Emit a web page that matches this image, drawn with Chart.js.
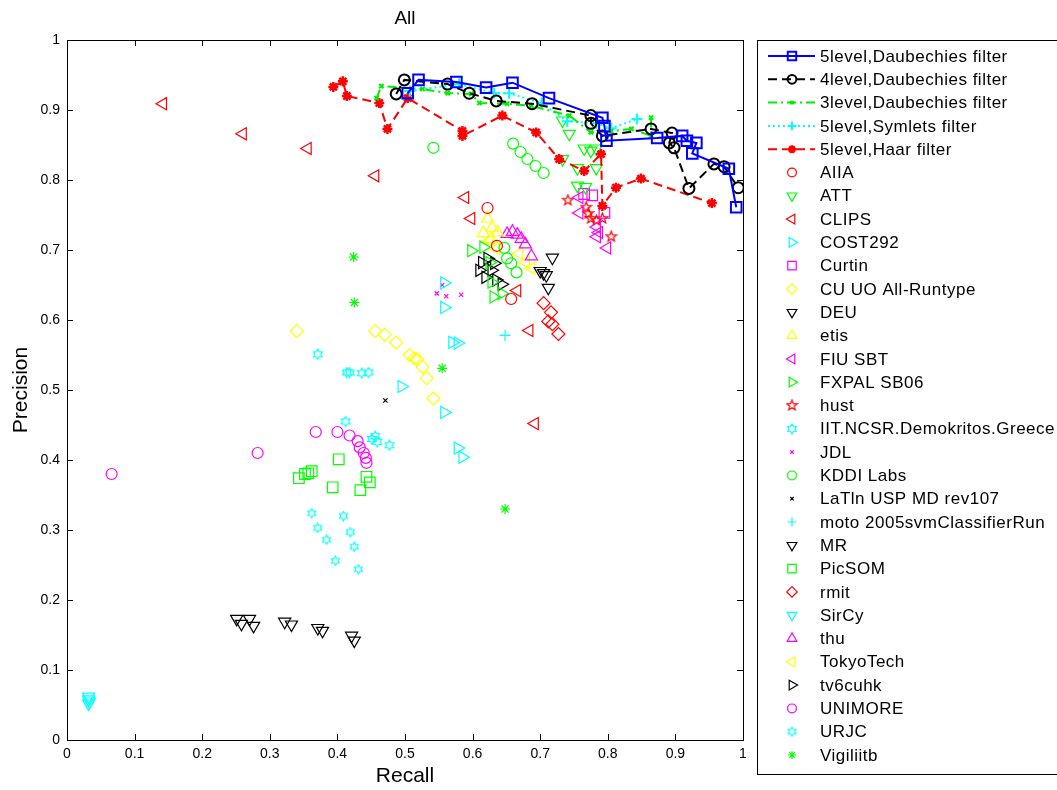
<!DOCTYPE html>
<html>
<head>
<meta charset="utf-8">
<script src="https://cdn.jsdelivr.net/npm/chart.js@4.4.0/dist/chart.umd.min.js"></script>
<style>
  html, body { margin: 0; padding: 0; background: #fff; }
  #wrap { width: 1057px; height: 790px; }
</style>
</head>
<body>
<div id="wrap"><canvas id="pr"></canvas></div>
<script>
// axis ticks
var tickVals = [0, 0.1, 0.2, 0.3, 0.4, 0.5, 0.6, 0.7, 0.8, 0.9, 1];
var tickLabels = ['0', '0.1', '0.2', '0.3', '0.4', '0.5', '0.6', '0.7', '0.8', '0.9', '1'];

// wavelet runs, [recall, precision]
var daub5 = [[0.504,0.924],[0.520,0.943],[0.576,0.940],[0.620,0.932],[0.659,0.939],[0.713,0.917],[0.792,0.889],[0.795,0.877],[0.798,0.856],[0.873,0.860],[0.910,0.863],[0.917,0.856],[0.931,0.853],[0.925,0.838],[0.979,0.816],[0.990,0.761]];
var daub4 = [[0.487,0.923],[0.499,0.943],[0.563,0.937],[0.595,0.924],[0.635,0.913],[0.688,0.909],[0.775,0.892],[0.775,0.881],[0.792,0.863],[0.864,0.873],[0.895,0.867],[0.891,0.853],[0.898,0.846],[0.920,0.788],[0.957,0.823],[0.972,0.819],[0.993,0.789]];
var daub3 = [[0.458,0.917],[0.465,0.934],[0.526,0.930],[0.563,0.924],[0.598,0.923],[0.610,0.910],[0.651,0.909],[0.687,0.906],[0.743,0.892],[0.775,0.868],[0.805,0.870],[0.835,0.873],[0.864,0.863],[0.864,0.889]];
var sym5 = [[0.507,0.927],[0.580,0.937],[0.632,0.924],[0.654,0.924],[0.702,0.910],[0.740,0.884],[0.783,0.881],[0.805,0.874],[0.843,0.887]];
var haar5 = [[0.394,0.933],[0.408,0.941],[0.414,0.920],[0.462,0.910],[0.474,0.873],[0.504,0.917],[0.585,0.870],[0.585,0.863],[0.644,0.892],[0.694,0.868],[0.728,0.830],[0.765,0.813],[0.790,0.837],[0.792,0.763],[0.812,0.789],[0.849,0.802],[0.954,0.767]];

// other groups' runs
var aiia = [[0.622,0.760],[0.636,0.706],[0.657,0.630]];
var att = [[0.733,0.885],[0.743,0.866],[0.765,0.845],[0.775,0.842],[0.783,0.845],[0.733,0.830],[0.755,0.817],[0.783,0.817],[0.755,0.792],[0.767,0.790]];
var clips = [[0.142,0.909],[0.260,0.866],[0.356,0.845],[0.456,0.806],[0.589,0.775],[0.598,0.745],[0.666,0.642],[0.684,0.585],[0.692,0.452]];
var cost292 = [[0.558,0.653],[0.558,0.618],[0.570,0.568],[0.578,0.567],[0.495,0.505],[0.558,0.468],[0.578,0.417],[0.585,0.404]];
var curtin = [[0.765,0.780],[0.777,0.778],[0.795,0.753]];
var cuuo = [[0.340,0.584],[0.456,0.584],[0.470,0.579],[0.487,0.568],[0.507,0.550],[0.514,0.545],[0.518,0.544],[0.526,0.533],[0.532,0.517],[0.542,0.488]];
var deu = [[0.718,0.689],[0.700,0.670],[0.705,0.667],[0.709,0.664],[0.712,0.646]];
var etis = [[0.622,0.745],[0.629,0.732],[0.616,0.724],[0.637,0.725],[0.627,0.716]];
var fiu = [[0.758,0.775],[0.758,0.753],[0.784,0.733],[0.787,0.725],[0.784,0.719],[0.799,0.703]];
var fxpal = [[0.598,0.699],[0.616,0.704],[0.625,0.682],[0.628,0.654],[0.631,0.633],[0.643,0.638]];
var hust = [[0.741,0.771],[0.768,0.761],[0.771,0.752],[0.775,0.745],[0.783,0.742],[0.792,0.745],[0.805,0.719]];
var iit = [[0.371,0.551],[0.414,0.525],[0.418,0.525],[0.436,0.524],[0.446,0.525],[0.412,0.455],[0.451,0.430],[0.456,0.434],[0.459,0.426],[0.477,0.421]];
var jdl = [[0.547,0.638],[0.555,0.650],[0.561,0.634],[0.583,0.636]];
var kddi = [[0.542,0.846],[0.660,0.852],[0.671,0.840],[0.681,0.830],[0.693,0.820],[0.705,0.810],[0.647,0.703],[0.651,0.688],[0.657,0.681],[0.665,0.668]];
var latin = [[0.471,0.485]];
var moto = [[0.648,0.578]];
var mr = [[0.251,0.173],[0.258,0.166],[0.270,0.173],[0.276,0.163],[0.322,0.169],[0.332,0.165],[0.371,0.160],[0.378,0.156],[0.421,0.149],[0.425,0.142]];
var picsom = [[0.343,0.374],[0.352,0.380],[0.357,0.381],[0.362,0.384],[0.402,0.401],[0.393,0.361],[0.443,0.376],[0.448,0.368],[0.434,0.357]];
var rmit = [[0.705,0.624],[0.716,0.611],[0.712,0.598],[0.718,0.594],[0.727,0.580]];
var sircy = [[0.032,0.062],[0.032,0.058],[0.033,0.055],[0.032,0.052]];
var thu = [[0.651,0.723],[0.659,0.726],[0.666,0.722],[0.672,0.716],[0.678,0.708],[0.687,0.691]];
var tokyo = [[0.625,0.713],[0.635,0.702],[0.669,0.695],[0.679,0.682],[0.687,0.674]];
var tv6 = [[0.614,0.682],[0.622,0.688],[0.632,0.681],[0.610,0.671],[0.628,0.671],[0.619,0.661],[0.635,0.657],[0.643,0.651]];
var unimore = [[0.066,0.380],[0.282,0.410],[0.368,0.440],[0.400,0.440],[0.418,0.435],[0.430,0.427],[0.433,0.418],[0.439,0.410],[0.442,0.403],[0.443,0.396]];
var urjc = [[0.362,0.324],[0.371,0.303],[0.384,0.286],[0.397,0.256],[0.409,0.320],[0.419,0.297],[0.425,0.276],[0.431,0.244]];
var vigil = [[0.424,0.690],[0.425,0.625],[0.555,0.531],[0.648,0.330]];

var FONT = '"Liberation Sans", Arial, sans-serif';

// pentagram / hexagram markers as small canvases
function starMarker(n, color, size) {
    var c = document.createElement('canvas');
    c.width = size; c.height = size;
    var g = c.getContext('2d');
    var R = size / 2 - 1;
    var r = n === 5 ? R * 0.42 : R * 0.577;
    g.strokeStyle = color;
    g.lineWidth = 1.2;
    g.beginPath();
    for (var i = 0; i < 2 * n; i++) {
        var a = -Math.PI / 2 + i * Math.PI / n;
        var rr = i % 2 ? r : R;
        var px = size / 2 + Math.cos(a) * rr, py = size / 2 + Math.sin(a) * rr;
        if (i === 0) g.moveTo(px, py); else g.lineTo(px, py);
    }
    g.closePath();
    g.stroke();
    return c;
}

function toXY(pts) {
    return pts.map(function (p) { return { x: p[0], y: p[1] }; });
}

function lineSet(label, pts, color, style, radius, dash, mw) {
    return {
        label: label, data: toXY(pts), showLine: true,
        borderColor: color, borderWidth: 2, borderDash: dash,
        pointStyle: style, pointRadius: radius, pointRotation: 0,
        pointBorderColor: color, pointBackgroundColor: 'rgba(0,0,0,0)',
        pointBorderWidth: mw, pointHoverRadius: radius
    };
}

function markSet(label, pts, color, style, radius, rot) {
    return {
        label: label, data: toXY(pts), showLine: false,
        borderColor: color, borderWidth: 1,
        pointStyle: style, pointRadius: radius, pointRotation: rot || 0,
        pointBorderColor: color, pointBackgroundColor: 'rgba(0,0,0,0)',
        pointBorderWidth: 1.2, pointHoverRadius: radius
    };
}

var datasets = [
    lineSet('5level,Daubechies filter', daub5, '#0000ff', 'rect', 7.5, [], 2),
    lineSet('4level,Daubechies filter', daub4, '#000000', 'circle', 5.5, [9, 5], 2),
    lineSet('3level,Daubechies filter', daub3, '#00ee00', 'crossRot', 3, [9, 4, 2, 4], 2),
    lineSet('5level,Symlets filter', sym5, '#00ffff', 'cross', 5.5, [2, 3], 2),
    lineSet('5level,Haar filter', haar5, '#ff0000', 'star', 5, [9, 5], 2.5),
    markSet('AIIA', aiia, '#ff0000', 'circle', 5.5),
    markSet('ATT', att, '#00ff00', 'triangle', 7, 180),
    markSet('CLIPS', clips, '#ff0000', 'triangle', 7, -90),
    markSet('COST292', cost292, '#00ffff', 'triangle', 7, 90),
    markSet('Curtin', curtin, '#ff00ff', 'rect', 7.5),
    markSet('CU UO All-Runtype', cuuo, '#ffff00', 'rectRot', 6.5),
    markSet('DEU', deu, '#000000', 'triangle', 7, 180),
    markSet('etis', etis, '#ffff00', 'triangle', 7, 0),
    markSet('FIU SBT', fiu, '#ff00ff', 'triangle', 7, -90),
    markSet('FXPAL SB06', fxpal, '#00ff00', 'triangle', 7, 90),
    markSet('hust', hust, '#ff0000', starMarker(5, '#ff0000', 13), 6),
    markSet('IIT.NCSR.Demokritos.Greece', iit, '#00ffff', starMarker(6, '#00ffff', 12), 6),
    markSet('JDL', jdl, '#ff00ff', 'crossRot', 3),
    markSet('KDDI Labs', kddi, '#00ff00', 'circle', 5.5),
    markSet('LaTln USP MD rev107', latin, '#000000', 'crossRot', 3),
    markSet('moto 2005svmClassifierRun', moto, '#00ffff', 'cross', 5.5),
    markSet('MR', mr, '#000000', 'triangle', 7, 180),
    markSet('PicSOM', picsom, '#00ff00', 'rect', 7.5),
    markSet('rmit', rmit, '#ff0000', 'rectRot', 6.5),
    markSet('SirCy', sircy, '#00ffff', 'triangle', 7, 180),
    markSet('thu', thu, '#ff00ff', 'triangle', 7, 0),
    markSet('TokyoTech', tokyo, '#ffff00', 'triangle', 7, -90),
    markSet('tv6cuhk', tv6, '#000000', 'triangle', 7, 90),
    markSet('UNIMORE', unimore, '#ff00ff', 'circle', 5.5),
    markSet('URJC', urjc, '#00ffff', starMarker(6, '#00ffff', 11), 5.5),
    markSet('Vigiliitb', vigil, '#00ff00', 'star', 5)
];

// frame, inward ticks, title and the boxed legend
var decor = {
    id: 'decor',
    afterDraw: function (chart) {
        var ctx = chart.ctx, a = chart.chartArea;
        var sx = chart.scales.x, sy = chart.scales.y;
        ctx.save();
        ctx.strokeStyle = '#000';
        ctx.lineWidth = 1;
        ctx.strokeRect(Math.round(a.left) + 0.5, Math.round(a.top) + 0.5,
            Math.round(a.right - a.left), Math.round(a.bottom - a.top));
        ctx.beginPath();
        tickVals.forEach(function (v) {
            var px = Math.round(sx.getPixelForValue(v)) + 0.5;
            ctx.moveTo(px, a.bottom); ctx.lineTo(px, a.bottom - 6);
            ctx.moveTo(px, a.top); ctx.lineTo(px, a.top + 6);
            var py = Math.round(sy.getPixelForValue(v)) + 0.5;
            ctx.moveTo(a.left, py); ctx.lineTo(a.left + 6, py);
            ctx.moveTo(a.right, py); ctx.lineTo(a.right - 6, py);
        });
        ctx.stroke();

        ctx.fillStyle = '#000';
        ctx.font = '19px ' + FONT;
        ctx.textAlign = 'center';
        ctx.textBaseline = 'middle';
        ctx.fillText('All', (a.left + a.right) / 2, 19);

        // legend
        var lx = 757.5, ly = 40.5;
        ctx.fillStyle = '#fff';
        ctx.fillRect(lx, ly, 400, 734);
        ctx.strokeRect(lx, ly, 400, 734);
        ctx.font = '17px ' + FONT;
        ctx.letterSpacing = '0.5px';
        ctx.textAlign = 'left';
        chart.data.datasets.forEach(function (ds, i) {
            var y = 56 + i * 23.3;
            ctx.strokeStyle = ds.pointBorderColor;
            if (ds.showLine) {
                ctx.lineWidth = ds.borderWidth;
                ctx.setLineDash(ds.borderDash);
                ctx.beginPath();
                ctx.moveTo(768, y); ctx.lineTo(815, y);
                ctx.stroke();
                ctx.setLineDash([]);
            }
            ctx.lineWidth = ds.pointBorderWidth;
            ctx.fillStyle = 'rgba(0,0,0,0)';
            var img = typeof ds.pointStyle !== 'string';
            Chart.helpers.drawPoint(ctx, {
                pointStyle: ds.pointStyle, rotation: ds.pointRotation,
                radius: img ? ds.pointRadius : ds.pointRadius * 0.8,
                borderWidth: ds.pointBorderWidth
            }, 792, y);
            ctx.fillStyle = '#000';
            ctx.fillText(ds.label, 820, y + 1);
        });
        ctx.restore();
    }
};

function fixedTicks(scale) {
    scale.ticks = tickVals.map(function (v) { return { value: v }; });
}

new Chart(document.getElementById('pr'), {
    type: 'scatter',
    data: { datasets: datasets },
    options: {
        responsive: true,
        maintainAspectRatio: false,
        devicePixelRatio: 1,
        animation: false,
        layout: { padding: { top: 40, right: 314, left: 0, bottom: 0 } },
        plugins: {
            legend: { display: false },
            tooltip: { enabled: false }
        },
        scales: {
            x: {
                type: 'linear', min: 0, max: 1,
                afterBuildTicks: fixedTicks,
                afterFit: function (s) { s.height = 50; },
                grid: { display: false, drawTicks: false },
                border: { display: false },
                ticks: {
                    color: '#000', padding: 6, maxRotation: 0,
                    font: { family: FONT, size: 14 },
                    callback: function (v, i) { return tickLabels[i]; }
                },
                title: {
                    display: true, text: 'Recall', color: '#000',
                    font: { family: FONT, size: 21 }, padding: { top: 0, bottom: 1 }
                }
            },
            y: {
                type: 'linear', min: 0, max: 1,
                afterBuildTicks: fixedTicks,
                afterFit: function (s) { s.width = 67; },
                grid: { display: false, drawTicks: false },
                border: { display: false },
                ticks: {
                    color: '#000', padding: 7,
                    font: { family: FONT, size: 14 },
                    callback: function (v, i) { return tickLabels[i]; }
                },
                title: {
                    display: true, text: 'Precision', color: '#000',
                    font: { family: FONT, size: 21 }, padding: { top: 9, bottom: 0 }
                }
            }
        }
    },
    plugins: [decor]
});
</script>
</body>
</html>
